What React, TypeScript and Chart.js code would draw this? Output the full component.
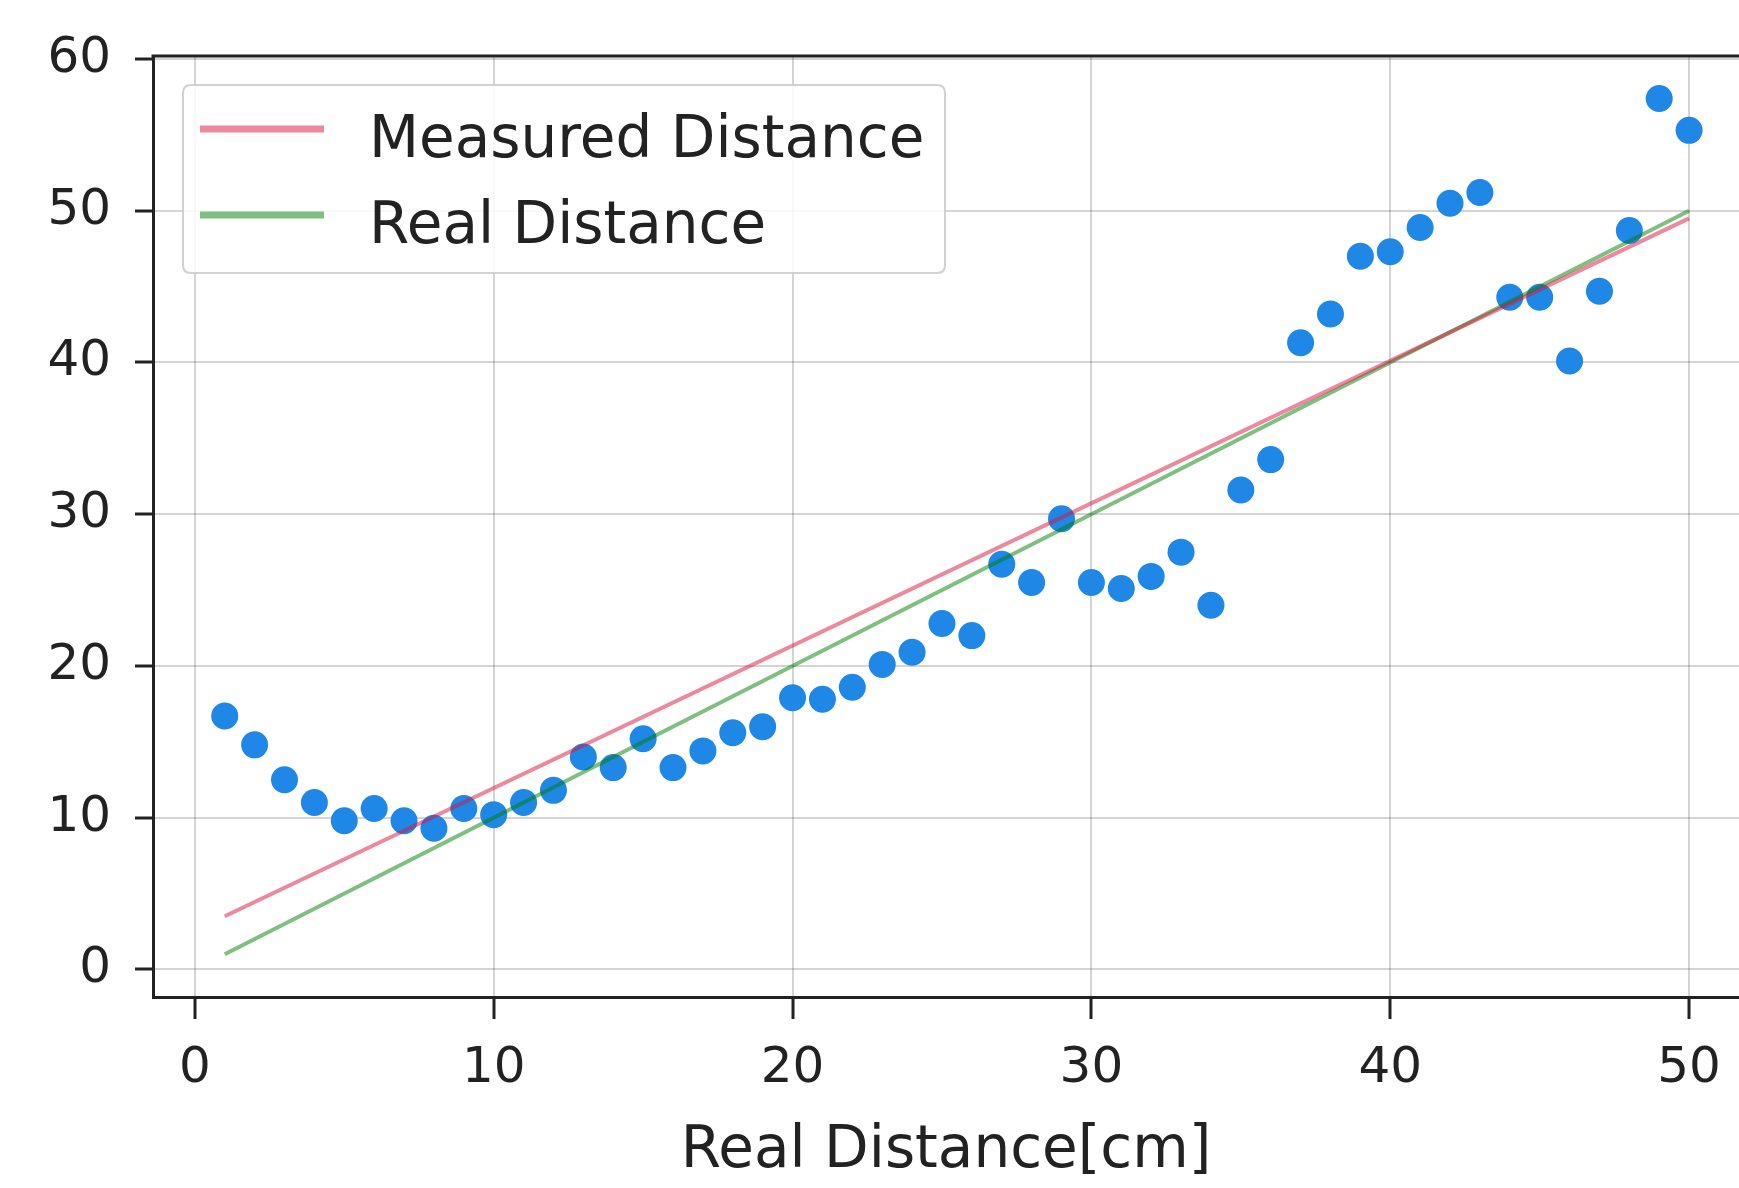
import React, { useEffect, useRef } from 'react';
import { Chart, registerables } from 'chart.js';

Chart.register(...registerables);

// ---- data ----
const realDistances = [
  1, 2, 3, 4, 5, 6, 7, 8, 9, 10,
  11, 12, 13, 14, 15, 16, 17, 18, 19, 20,
  21, 22, 23, 24, 25, 26, 27, 28, 29, 30,
  31, 32, 33, 34, 35, 36, 37, 38, 39, 40,
  41, 42, 43, 44, 45, 46, 47, 48, 49, 50,
];
const measuredValues = [
  16.7, 14.8, 12.5, 11.0, 9.8, 10.6, 9.8, 9.3, 10.6, 10.2,
  11.0, 11.8, 14.0, 13.3, 15.2, 13.3, 14.4, 15.6, 16.0, 17.9,
  17.8, 18.6, 20.1, 20.9, 22.8, 22.0, 26.7, 25.5, 29.7, 25.5,
  25.1, 25.9, 27.5, 24.0, 31.6, 33.6, 41.3, 43.2, 47.0, 47.3,
  48.9, 50.5, 51.2, 44.3, 44.3, 40.1, 44.7, 48.7, 57.4, 55.3,
];
const lineX = [1, 50];
const measuredFitY = [3.5, 49.5];
const realLineY = [1, 50];
const xTickValues = [0, 10, 20, 30, 40, 50];
const yTickValues = [0, 10, 20, 30, 40, 50, 60];
const seriesLabels = ['Measured Distance', 'Real Distance'];
const xAxisLabel = 'Real Distance[cm]';

const FONT = "'DejaVu Sans', 'Liberation Sans', sans-serif";
const PINK = 'rgba(220,20,60,0.5)';
const GREEN = 'rgba(0,128,0,0.5)';
const BLUE = '#1f87e6';
const DARK = '#222222';

const framePlugin = {
  id: 'frameAndLegend',
  afterDatasetsDraw(chart: any) {
    const { ctx, chartArea } = chart;
    ctx.save();
    // top spine
    ctx.strokeStyle = DARK;
    ctx.lineWidth = 3;
    ctx.beginPath();
    ctx.moveTo(chartArea.left - 1.5, chartArea.top);
    ctx.lineTo(chartArea.right, chartArea.top);
    ctx.stroke();

    // legend box
    const bx = 183, by = 85, bw = 762, bh = 188, r = 8;
    ctx.beginPath();
    ctx.moveTo(bx + r, by);
    ctx.lineTo(bx + bw - r, by);
    ctx.quadraticCurveTo(bx + bw, by, bx + bw, by + r);
    ctx.lineTo(bx + bw, by + bh - r);
    ctx.quadraticCurveTo(bx + bw, by + bh, bx + bw - r, by + bh);
    ctx.lineTo(bx + r, by + bh);
    ctx.quadraticCurveTo(bx, by + bh, bx, by + bh - r);
    ctx.lineTo(bx, by + r);
    ctx.quadraticCurveTo(bx, by, bx + r, by);
    ctx.closePath();
    ctx.fillStyle = 'rgba(255,255,255,0.85)';
    ctx.fill();
    ctx.strokeStyle = 'rgba(204,204,204,0.9)';
    ctx.lineWidth = 2;
    ctx.stroke();

    const rows = [129, 215];
    const datasets = chart.data.datasets.filter((d: any) => d.showInLegend);
    datasets.forEach((d: any, i: number) => {
      const y = rows[i];
      ctx.strokeStyle = d.borderColor;
      ctx.lineWidth = 7;
      ctx.beginPath();
      ctx.moveTo(200, y);
      ctx.lineTo(324, y);
      ctx.stroke();
      ctx.fillStyle = DARK;
      ctx.font = `58px ${FONT}`;
      ctx.textBaseline = 'alphabetic';
      ctx.textAlign = 'left';
      ctx.fillText(d.label, 369, y + 28);
    });
    ctx.restore();
  },
};

export default function App() {
  const canvasRef = useRef<HTMLCanvasElement | null>(null);

  useEffect(() => {
    if (!canvasRef.current) return;
    const chart = new Chart(canvasRef.current, {
      type: 'scatter',
      data: {
        datasets: [
          {
            type: 'line',
            label: seriesLabels[0],
            data: lineX.map((x, i) => ({ x, y: measuredFitY[i] })),
            borderColor: PINK,
            backgroundColor: PINK,
            borderWidth: 4,
            pointRadius: 0,
            fill: false,
            showInLegend: true,
          } as any,
          {
            type: 'line',
            label: seriesLabels[1],
            data: lineX.map((x, i) => ({ x, y: realLineY[i] })),
            borderColor: GREEN,
            backgroundColor: GREEN,
            borderWidth: 4,
            pointRadius: 0,
            fill: false,
            showInLegend: true,
          } as any,
          {
            type: 'scatter',
            label: 'Measured',
            data: realDistances.map((x, i) => ({ x, y: measuredValues[i] })),
            backgroundColor: BLUE,
            borderColor: BLUE,
            borderWidth: 0,
            pointRadius: 13.5,
            showInLegend: false,
          } as any,
        ],
      },
      options: {
        animation: false,
        responsive: false,
        devicePixelRatio: 1,
        layout: { autoPadding: false, padding: { top: 56, left: 0, right: 0, bottom: 0 } },
        plugins: {
          legend: { display: false },
          tooltip: { enabled: false },
        },
        scales: {
          x: {
            type: 'linear',
            min: -1.4,
            max: 51.67,
            afterBuildTicks: (scale: any) => {
              scale.ticks = xTickValues.map((v) => ({ value: v }));
            },
            afterFit: (scale: any) => {
              scale.height = 191;
              scale.paddingLeft = 0;
              scale.paddingRight = 0;
            },
            grid: {
              color: 'rgba(0,0,0,0.17)',
              lineWidth: 2,
              tickColor: DARK,
              tickLength: 22,
              tickWidth: 3,
            },
            border: { color: DARK, width: 3 },
            ticks: {
              color: DARK,
              font: { family: FONT, size: 50, lineHeight: 1.2 },
              padding: 20,
              maxRotation: 0,
            },
            title: {
              display: true,
              text: xAxisLabel,
              color: DARK,
              font: { family: FONT, size: 58, lineHeight: 1.2 },
              padding: { top: 0, bottom: 1 },
            },
          },
          y: {
            type: 'linear',
            min: -1.82,
            max: 60.2,
            afterBuildTicks: (scale: any) => {
              scale.ticks = yTickValues.map((v) => ({ value: v }));
            },
            afterFit: (scale: any) => {
              scale.width = 153;
              scale.paddingTop = 0;
              scale.paddingBottom = 0;
            },
            grid: {
              color: 'rgba(0,0,0,0.17)',
              lineWidth: 2,
              tickColor: DARK,
              tickLength: 18,
              tickWidth: 3,
            },
            border: { color: DARK, width: 3 },
            ticks: {
              color: DARK,
              font: { family: FONT, size: 50, lineHeight: 1.2 },
              padding: 24,
            },
          },
        },
      },
      plugins: [framePlugin],
    });
    return () => chart.destroy();
  }, []);

  return (
    <div style={{ position: 'absolute', left: 0, top: 0, width: 1739, height: 1188, background: '#fff' }}>
      <canvas ref={canvasRef} width={1739} height={1188} style={{ display: 'block', width: 1739, height: 1188 }} />
    </div>
  );
}
